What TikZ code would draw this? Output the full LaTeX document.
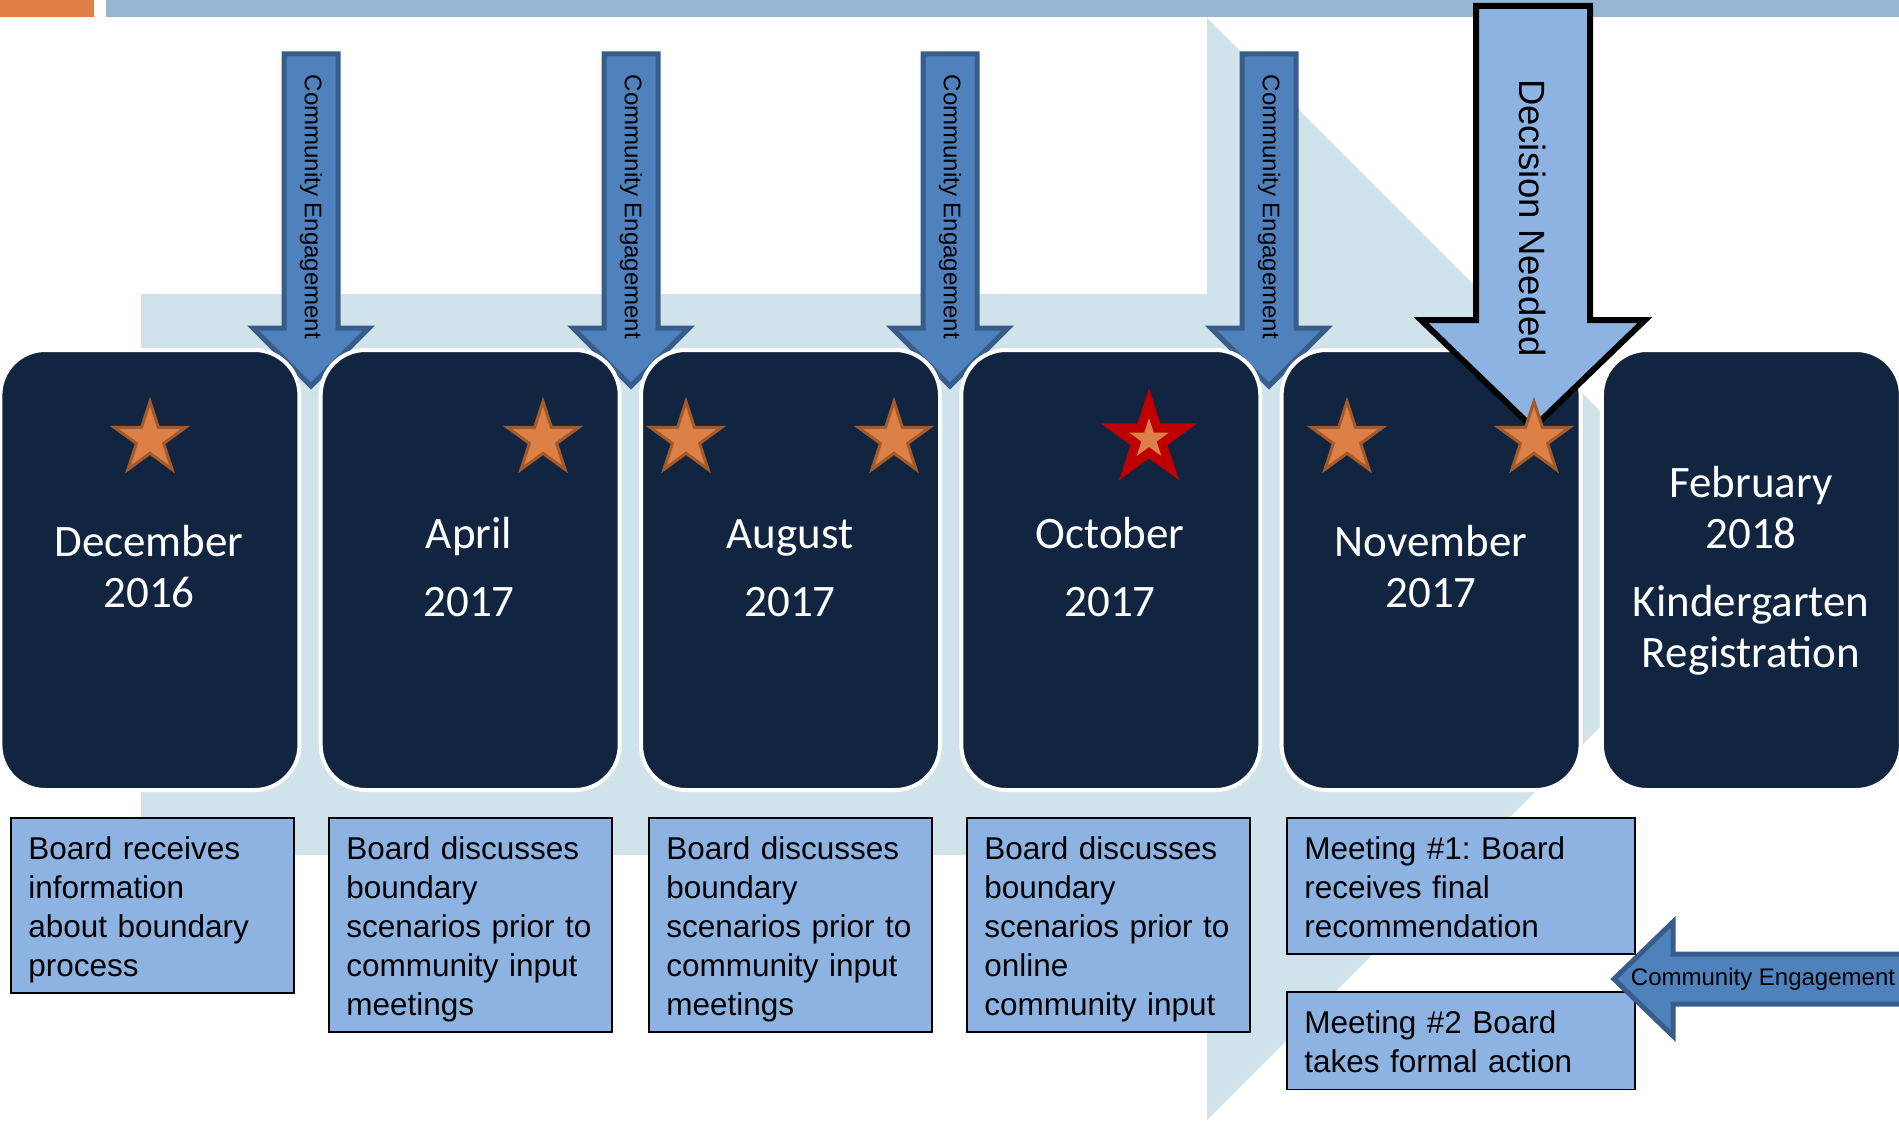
\documentclass[tikz,border=0pt]{standalone}
\usepackage{fontspec}
\setmainfont{Liberation Sans}
\newfontfamily\calibri{Carlito}
\usetikzlibrary{shapes.geometric}

\definecolor{navybox}{RGB}{18,37,64}
\definecolor{paleband}{RGB}{208,226,234}
\definecolor{topbar}{RGB}{148,182,210}
\definecolor{toporange}{RGB}{224,127,69}
\definecolor{ceblue}{RGB}{79,129,189}
\definecolor{ceedge}{RGB}{56,93,138}
\definecolor{noteblue}{RGB}{141,179,226}
\definecolor{starfill}{RGB}{221,128,71}
\definecolor{staredge}{RGB}{163,89,40}
\definecolor{starred}{RGB}{192,0,0}

\newcommand{\topstrut}{\rule{0pt}{16pt}}
\newcommand{\botstrut}{\rule[-3.4pt]{0pt}{3.4pt}}

\begin{document}
\begin{tikzpicture}[x=0.5pt,y=0.5pt,yscale=-1,xscale=1,
  monthbox/.style={fill=navybox,draw=white,line width=2pt,rounded corners=22.5pt},
  monthtext/.style={text=white,align=center,inner sep=0pt,font=\calibri\fontsize{22.5}{25.5}\selectfont},
  notebox/.style={fill=noteblue,draw=black,line width=0.8pt,anchor=north west,align=left,text width=124pt,inner xsep=8.75pt,inner ysep=5pt,font=\fontsize{15.75}{19.4}\selectfont\frenchspacing},
  cearrow/.style={fill=ceblue,draw=ceedge,line width=2.5pt},
  cetext/.style={inner sep=0pt,font=\fontsize{12}{14}\selectfont},
  orangestar/.style={star,star points=5,star point ratio=2.618,fill=starfill,draw=staredge,line width=1.5pt,minimum size=37.5pt,inner sep=0pt}]
\useasboundingbox (0,0) rectangle (1899,1123);
\fill[white] (0,0) rectangle (1899,1123);

%Shape: Rectangle
\fill[toporange] (0,0) rectangle (94,17);
\fill[topbar] (106,0) rectangle (1899,17);
%Shape: Right Arrow
\fill[paleband] (141,294) -- (1207,294) -- (1207,18) -- (1758,569) -- (1207,1120) -- (1207,855) -- (141,855) -- cycle;

%Shape: Down Arrow
\foreach \c [count=\i] in {311,631,950,1269} {
  \draw[cearrow] (\c-27,54) -- (\c+27,54) -- (\c+27,328) -- (\c+58,328) -- (\c,386) -- (\c-58,328) -- (\c-27,328) -- cycle;
  \node[cetext,rotate=-90] (ce\i) at (\c,207) {Community Engagement};
}

%Shape: Rounded Rect
\foreach \i in {0,...,5}
  \draw[monthbox] (0.4+320.3*\i,350) rectangle ++(299,440);

%Shape: Down Arrow
\draw[fill=noteblue,draw=black,line width=3pt] (1476,6) -- (1590,6) -- (1590,320) -- (1645,320) -- (1533,428) -- (1421,320) -- (1476,320) -- cycle;
% Text Node
\node[rotate=-90,inner sep=0pt,font=\fontsize{18.25}{22}\selectfont] (decision) at (1533,218) {Decision Needed};

%Shape: Star
\node[orangestar] (star1) at (150,439) {};
\node[orangestar] (star2) at (543,439) {};
\node[orangestar] (star3) at (686,439) {};
\node[orangestar] (star4) at (894,439) {};
\node[orangestar,fill=starred,draw=starred,minimum size=46pt] (star5) at (1149,439) {};
\node[orangestar,draw=none,minimum size=21pt] (star5in) at (1149,439) {};
\node[orangestar] (star6) at (1347,439) {};
\node[orangestar] (star7) at (1534,439) {};

% Text Node
\node[monthtext] (dec) at (149,572) {\strut December\\2016\strut};
\node[monthtext] (apr) at (469,572) {\strut April\\[8.5pt]2017\strut};
\node[monthtext] (aug) at (790,572) {\strut August\\[8.5pt]2017\strut};
\node[monthtext] (oct) at (1110,572) {\strut October\\[8.5pt]2017\strut};
\node[monthtext] (nov) at (1431,572) {\strut November\\2017\strut};
\node[monthtext] (feb) at (1751,572) {\strut February\\2018\\[8.5pt]Kindergarten\\Registration\strut};

% Text Node
\node[notebox] (note1) at (10,817) {\topstrut Board receives\\information\\about boundary\\process\botstrut};
\node[notebox] (note2) at (328,817) {\topstrut Board discusses\\boundary\\scenarios prior to\\community input\\meetings\botstrut};
\node[notebox] (note3) at (648,817) {\topstrut Board discusses\\boundary\\scenarios prior to\\community input\\meetings\botstrut};
\node[notebox] (note4) at (966,817) {\topstrut Board discusses\\boundary\\scenarios prior to\\online\\community input\botstrut};
\node[notebox,text width=156.5pt] (meet1) at (1286,817) {\topstrut Meeting \#1: Board\\receives final\\recommendation\botstrut};
\node[notebox,text width=156.5pt] (meet2) at (1286,991) {\topstrut Meeting \#2 Board\\takes formal action\botstrut};

%Shape: Left Arrow
\draw[cearrow] (1905,954) -- (1673,954) -- (1673,922) -- (1614,979) -- (1673,1036) -- (1673,1004) -- (1905,1004) -- cycle;
% Text Node
\node[cetext] (ce5) at (1763,979) {Community Engagement};
\end{tikzpicture}
\end{document}
